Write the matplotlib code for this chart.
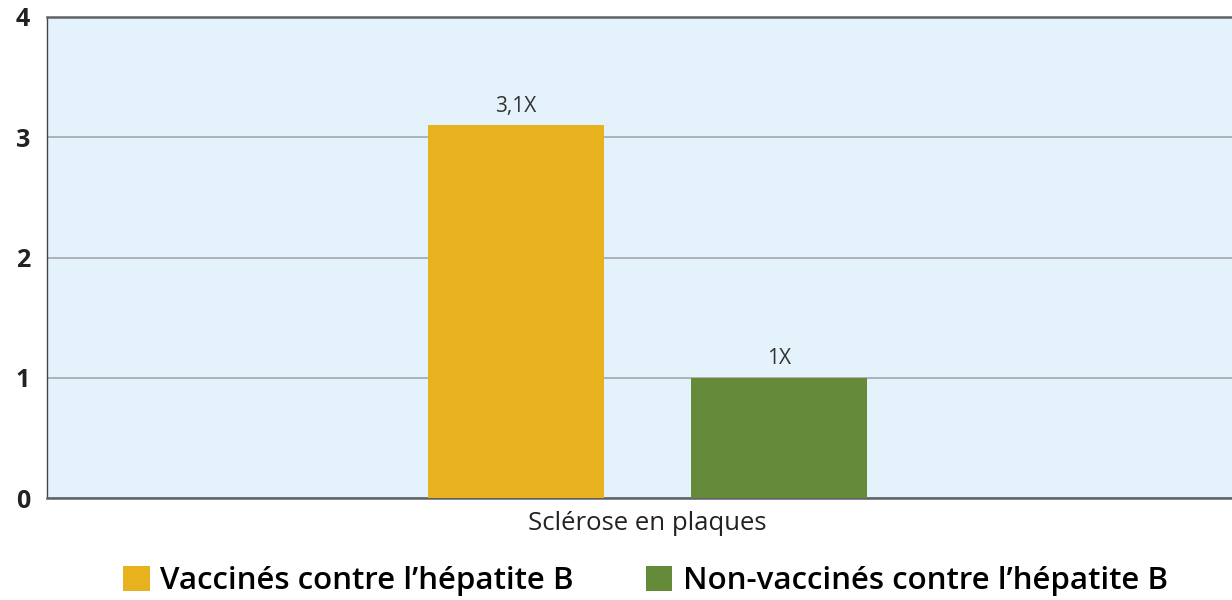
import matplotlib
matplotlib.use("Agg")
import matplotlib.pyplot as plt
from matplotlib.patches import Patch

categories = ["Sclérose en plaques"]
series_names = ["Vaccinés contre l\u2019hépatite B", "Non-vaccinés contre l\u2019hépatite B"]
series_values = [[3.1], [1.0]]
value_labels = [["3,1X"], ["1X"]]
colors = ["#E8B21E", "#648A3A"]
yticks = [0, 1, 2, 3, 4]

plt.rcParams['font.family'] = ["Open Sans", "DejaVu Sans"]

fig = plt.figure(figsize=(12.32, 6.0), dpi=100)
ax = fig.add_axes([47/1232, 1-498/600, 1-47/1232, (498-17)/600])
ax.set_facecolor("#E4F2FC")

offsets = [-0.5, 0.5]
width = 0.669
for i, (vals, labs) in enumerate(zip(series_values, value_labels)):
    xs = [c + offsets[i] for c in range(len(categories))]
    bars = ax.bar(xs, vals, width=width, color=colors[i], zorder=3)
    for b, lab in zip(bars, labs):
        ax.text(b.get_x() + b.get_width()/2, b.get_height() + 0.07, lab,
                ha="center", va="bottom", fontsize=15, color="#333333", zorder=4)

ax.set_xlim(-2.283, 2.222)
ax.set_ylim(0, 4)
ax.set_yticks(yticks)
ax.set_yticklabels([str(t) for t in yticks], fontsize=18, fontweight="bold", color="#222222")
ax.set_xticks(range(len(categories)))
ax.set_xticklabels(categories, fontsize=18.5, color="#222222")
ax.tick_params(axis="both", length=0)
ax.tick_params(axis="y", pad=12)
ax.tick_params(axis="x", pad=9)
ax.yaxis.grid(True, color="#A8ADB2", linewidth=1.3, zorder=1)
ax.set_axisbelow(True)

for s in ["top", "bottom"]:
    ax.spines[s].set_color("#5F6366")
    ax.spines[s].set_linewidth(1.8)
ax.spines["left"].set_color("#444444")
ax.spines["left"].set_linewidth(1.0)
ax.spines["right"].set_visible(False)

handles = [Patch(facecolor=c, edgecolor="none") for c in colors]
fig.legend(handles, series_names, loc="center", bbox_to_anchor=(0.524, 1-581/600),
           ncol=2, frameon=False, handlelength=0.85, handleheight=0.85,
           handletextpad=0.33, columnspacing=2.3, borderpad=0, borderaxespad=0,
           prop={"family": ["Open Sans", "DejaVu Sans"], "weight": "semibold", "size": 22.5})

fig.savefig("out.png", dpi=100)
